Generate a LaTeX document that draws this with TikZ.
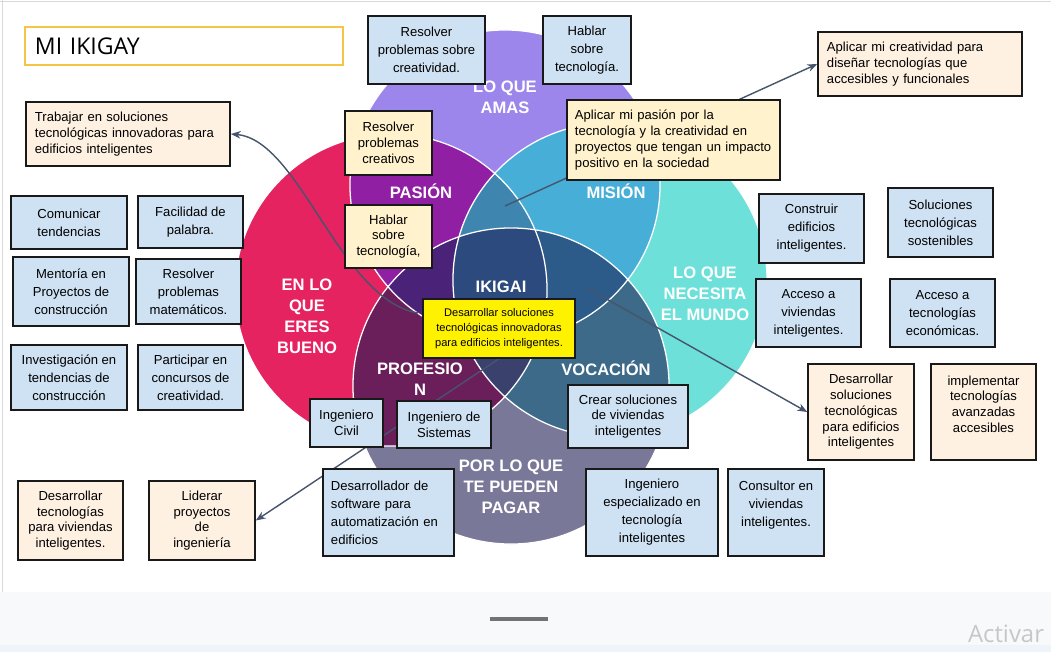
\documentclass[tikz,border=0pt]{standalone}
\usepackage{fontspec}
\setmainfont{Liberation Sans}
\newfontfamily\titlefont{Open Sans}
\usetikzlibrary{arrows.meta}

\definecolor{cAma}{HTML}{9C86EC}
\definecolor{cBueno}{HTML}{E52360}
\definecolor{cMundo}{HTML}{6DE1D9}
\definecolor{cPagar}{HTML}{797898}
\definecolor{cPasion}{HTML}{901FA3}
\definecolor{cMision}{HTML}{47AFD7}
\definecolor{cVocacion}{HTML}{3D6A89}
\definecolor{cProfesion}{HTML}{6B1F5A}
\definecolor{cTLR}{HTML}{3E86B0}
\definecolor{cTLB}{HTML}{4A2277}
\definecolor{cTRB}{HTML}{2C5B8A}
\definecolor{cLRB}{HTML}{3A416D}
\definecolor{cIkigai}{HTML}{2C4A7D}
\definecolor{boxBlue}{HTML}{CFE2F3}
\definecolor{boxPeach}{HTML}{FEF1E2}
\definecolor{boxCream}{HTML}{FFF2CC}
\definecolor{titleGold}{HTML}{F4C542}
\definecolor{linkGray}{HTML}{46546C}
\definecolor{barGray}{HTML}{F8F9FA}
\definecolor{barBlue}{HTML}{EFF3FA}

\newcommand{\ringAma}{(505,185) circle (3.875cm)}
\newcommand{\ringBueno}{(391,290) circle (3.9cm)}
\newcommand{\ringMundo}{(610,280) circle (3.925cm)}
\newcommand{\ringPagar}{(511,386) circle (3.95cm)}

\pgfdeclarelayer{rings}
\pgfdeclarelayer{links}
\pgfsetlayers{rings,links,main}

\begin{document}
\begin{tikzpicture}[x=0.025cm,y=-0.025cm,>={Stealth[length=7pt,width=5.5pt]},
  every node/.style={inner sep=2pt},
  box/.style={draw=black!90,line width=1.1pt,align=center,font=\fontsize{9.3}{12.8}\selectfont},
  blueBox/.style={box,fill=boxBlue},
  peachBox/.style={box,fill=boxPeach},
  creamBox/.style={box,fill=boxCream},
  tight/.style={font=\fontsize{9.3}{11.2}\selectfont},
  ringText/.style={text=white,align=center,font=\bfseries\fontsize{11.8}{14.9}\selectfont},
  link/.style={->,draw=linkGray,line width=1pt}]
  \useasboundingbox (0,0) rectangle (1051,652);

  \begin{pgfonlayer}{rings}
    \fill[white] (0,0) rectangle (1051,592);
    \fill[barGray] (0,592) rectangle (1051,652);
    \fill[barBlue] (0,645) rectangle (1051,652);
    \draw[black!15] (0,1.5) -- (1051,1.5);
    \draw[black!15] (2,0) -- (2,592);
    \draw[black!55,line width=2.2pt] (490,619) -- (548,619);

    \fill[cAma] \ringAma;
    \fill[cBueno] \ringBueno;
    \fill[cMundo] \ringMundo;
    \fill[cPagar] \ringPagar;
    \begin{scope}
      \clip \ringAma;
      \fill[cPasion] \ringBueno;
      \fill[cMision] \ringMundo;
    \end{scope}
    \begin{scope}
      \clip \ringPagar;
      \fill[cProfesion] \ringBueno;
      \fill[cVocacion] \ringMundo;
    \end{scope}
    \begin{scope}
      \clip \ringAma; \clip \ringBueno;
      \fill[cTLR] \ringMundo;
      \fill[cTLB] \ringPagar;
    \end{scope}
    \begin{scope}
      \clip \ringMundo; \clip \ringPagar;
      \fill[cTRB] \ringAma;
      \fill[cLRB] \ringBueno;
    \end{scope}
    \begin{scope}
      \clip \ringAma; \clip \ringBueno; \clip \ringMundo;
      \fill[cIkigai] \ringPagar;
    \end{scope}
    \draw[white,line width=0.9pt] \ringAma \ringBueno \ringMundo \ringPagar;

    \node[ringText] (amas) at (505,97) {LO QUE\\AMAS};
    \node[ringText] (pasion) at (421,191) {PASIÓN};
    \node[ringText] (mision) at (616,191) {MISIÓN};
    \node[ringText] (bueno) at (307,316) {EN LO\\QUE\\ERES\\BUENO};
    \node[ringText] (mundo) at (705,294) {LO QUE\\NECESITA\\EL MUNDO};
    \node[ringText] (ikigai) at (501,287) {IKIGAI};
    \node[ringText] (profesion) at (420,379) {PROFESIO\\N};
    \node[ringText] (vocacion) at (606,368) {VOCACIÓN};
    \node[ringText] (pagar) at (511,487) {POR LO QUE\\TE PUEDEN\\PAGAR};
  \end{pgfonlayer}

  \node[text=black!22,font=\titlefont\fontsize{17}{20}\selectfont] (activar) at (1006,634) {Activar};
  \node[draw=titleGold,line width=0.8pt,fill=white,minimum height=0.95cm,text width=7.45cm,inner xsep=0.25cm,align=left,font=\titlefont\fontsize{16.4}{18}\selectfont] (title) at (184,46) {MI IKIGAY};

  \node[blueBox,minimum width=2.925cm,minimum height=1.7cm] (resolverSobre) at (426.5,50) {Resolver\\problemas sobre\\creatividad.};
  \node[blueBox,minimum width=2.2cm,minimum height=1.7cm] (hablarArriba) at (587,50) {Hablar\\sobre\\tecnología.};
  \node[peachBox,tight,align=left,text width=4.65cm,inner xsep=0.225cm,minimum height=1.6cm] (aplicarCreat) at (920,64) {Aplicar mi creatividad para\\diseñar tecnologías que\\accesibles y funcionales};
  \node[peachBox,tight,align=left,text width=4.65cm,inner xsep=0.225cm,minimum height=1.6cm] (trabajar) at (128,134) {Trabajar en soluciones\\tecnológicas innovadoras para\\edificios inteligentes};
  \node[creamBox,tight,minimum width=2.175cm,minimum height=1.6cm] (resolverCreat) at (388.5,143) {Resolver\\problemas\\creativos};
  \node[creamBox,tight,minimum width=2.175cm,minimum height=1.575cm] (hablarMedio) at (388.5,236.5) {Hablar\\sobre\\tecnología,};
  \node[creamBox,tight,align=left,text width=4.925cm,inner xsep=0.2cm,minimum height=2cm] (aplicarPasion) at (673.5,140) {Aplicar mi pasión por la\\tecnología y la creatividad en\\proyectos que tengan un impacto\\positivo en la sociedad};

  \node[blueBox,minimum width=2.9cm,minimum height=1.325cm] (comunicar) at (69,222.5) {Comunicar\\tendencias};
  \node[blueBox,minimum width=2.625cm,minimum height=1.3cm] (facilidad) at (190.5,222) {Facilidad de\\palabra.};
  \node[blueBox,minimum width=2.9cm,minimum height=1.725cm] (mentoria) at (71,291.5) {Mentoría en\\Proyectos de\\construcción};
  \node[blueBox,minimum width=2.625cm,minimum height=1.625cm] (resolverMat) at (188.5,291.5) {Resolver\\problemas\\matemáticos.};
  \node[blueBox,minimum width=2.9cm,minimum height=1.625cm] (investigacion) at (69,377.5) {Investigación en\\tendencias de\\construcción};
  \node[blueBox,minimum width=2.625cm,minimum height=1.625cm] (participar) at (190.5,377.5) {Participar en\\concursos de\\creatividad.};
  \node[peachBox,tight,minimum width=2.625cm,minimum height=1.975cm] (desarrollarViv) at (70.5,520.5) {Desarrollar\\tecnologías\\para viviendas\\inteligentes.};
  \node[peachBox,tight,minimum width=2.65cm,minimum height=1.975cm] (liderar) at (202,520.5) {Liderar\\proyectos\\de\\ingeniería};

  \node[draw=black!90,line width=1.1pt,fill=yellow,align=center,font=\fontsize{7.9}{10.7}\selectfont,minimum width=3.8cm,minimum height=1.475cm] (nucleo) at (499,328.5) {Desarrollar soluciones\\tecnológicas innovadoras\\para edificios inteligentes.};
  \node[blueBox,tight,minimum width=1.825cm,minimum height=1.2cm] (civil) at (346.5,423) {Ingeniero\\Civil};
  \node[blueBox,tight,minimum width=2.35cm,minimum height=1.175cm] (sistemas) at (444,424.5) {Ingeniero de\\Sistemas};
  \node[blueBox,align=left,text width=2.875cm,inner xsep=0.2cm,minimum height=2.175cm] (software) at (388.5,512.5) {Desarrollador de\\software para\\automatización en\\edificios};

  \node[blueBox,minimum width=2.625cm,minimum height=1.725cm] (construir) at (811.5,228.5) {Construir\\edificios\\inteligentes.};
  \node[blueBox,minimum width=2.625cm,minimum height=1.725cm] (sostenibles) at (940.5,222.5) {Soluciones\\tecnológicas\\sostenibles};
  \node[blueBox,minimum width=2.625cm,minimum height=1.7cm] (accesoViv) at (808.5,313) {Acceso a\\viviendas\\inteligentes.};
  \node[blueBox,minimum width=2.625cm,minimum height=1.7cm] (accesoTec) at (942.5,313) {Acceso a\\tecnologías\\económicas.};
  \node[peachBox,tight,minimum width=2.65cm,minimum height=2.4cm] (desarrollarEdif) at (861,412) {Desarrollar\\soluciones\\tecnológicas\\para edificios\\inteligentes};
  \node[peachBox,tight,minimum width=2.625cm,minimum height=2.4cm] (implementar) at (983.5,412) {implementar\\tecnologías\\avanzadas\\accesibles\\ \mbox{}};
  \node[blueBox,tight,minimum width=3cm,minimum height=1.575cm] (crear) at (628,416.5) {Crear soluciones\\de viviendas\\inteligentes};
  \node[blueBox,minimum width=3.3cm,minimum height=2.175cm] (especializado) at (652,512.5) {Ingeniero\\especializado en\\tecnología\\inteligentes};
  \node[blueBox,minimum width=2.4cm,minimum height=2.175cm] (consultor) at (776,512.5) {Consultor en\\viviendas\\inteligentes.\\ \mbox{}};

  \coordinate (pasionPt) at (505,206);
  \coordinate (curvaPt) at (418,313);
  \coordinate (ikigaiPt) at (587,288);
  \begin{pgfonlayer}{links}
    \draw[link] (pasionPt) -- (aplicarCreat.west);
    \draw[link] (curvaPt) .. controls (340,300) and (300,140) .. (trabajar.east);
    \draw[link] (nucleo.south) -- (liderar.east);
    \draw[link] (ikigaiPt) -- (desarrollarEdif.west);
  \end{pgfonlayer}
\end{tikzpicture}
\end{document}
